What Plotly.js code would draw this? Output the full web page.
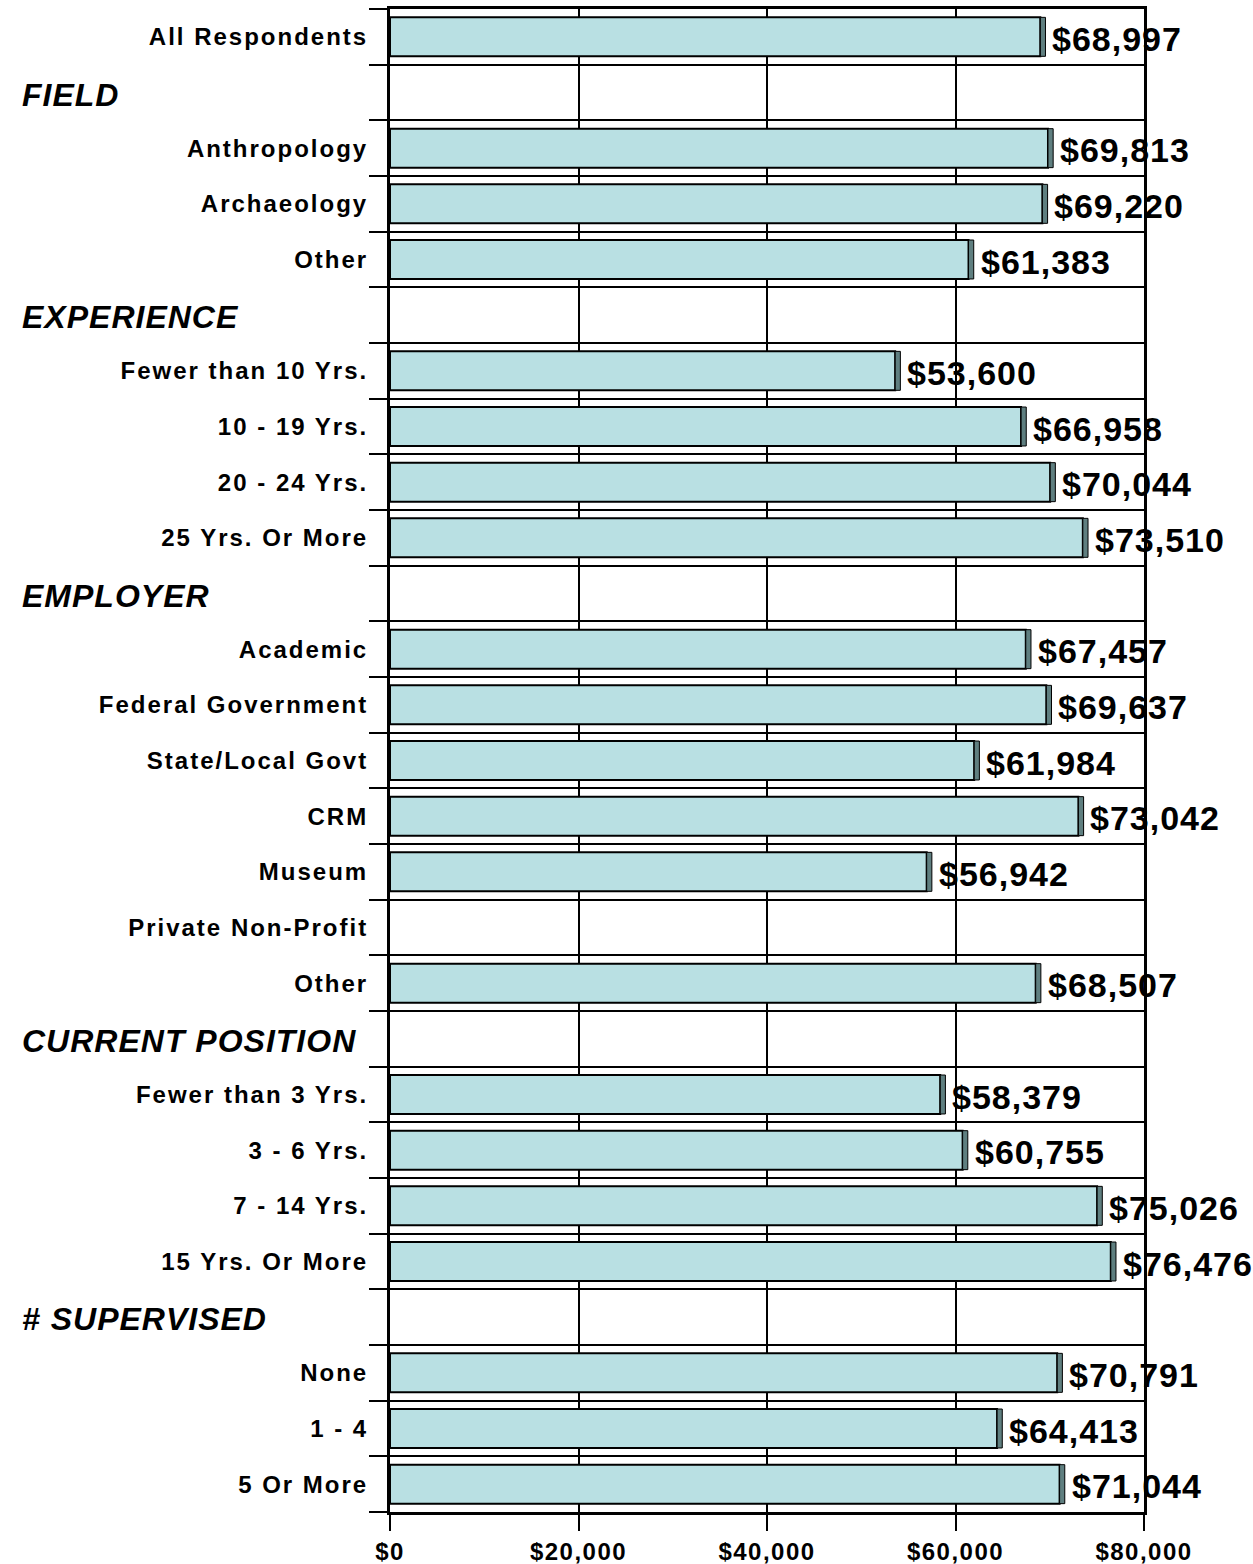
<!DOCTYPE html>
<html>
<head>
<meta charset="utf-8">
<script src="https://cdn.plot.ly/plotly-3.0.1.min.js"></script>
<style>
  html, body { margin: 0; padding: 0; background: #ffffff; }
  #chart { width: 1253px; height: 1564px; }
  .ytick text { letter-spacing: 2px; }
  .xtick text { letter-spacing: 1.5px; }
  .annotation-text { letter-spacing: 1px; }
</style>
</head>
<body>
<div id="chart"></div>
<script>
// ---- data ----
var categories = [
  "All Respondents",
  "FIELD",
  "Anthropology", "Archaeology", "Other",
  "EXPERIENCE",
  "Fewer than 10 Yrs.", "10 - 19 Yrs.", "20 - 24 Yrs.", "25 Yrs. Or More",
  "EMPLOYER",
  "Academic", "Federal Government", "State/Local Govt", "CRM", "Museum", "Private Non-Profit", "Other",
  "CURRENT POSITION",
  "Fewer than 3 Yrs.", "3 - 6 Yrs.", "7 - 14 Yrs.", "15 Yrs. Or More",
  "# SUPERVISED",
  "None", "1 - 4", "5 Or More"
];
var values = [
  68997,
  null,
  69813, 69220, 61383,
  null,
  53600, 66958, 70044, 73510,
  null,
  67457, 69637, 61984, 73042, 56942, null, 68507,
  null,
  58379, 60755, 75026, 76476,
  null,
  70791, 64413, 71044
];
var sectionHeaders = ["FIELD", "EXPERIENCE", "EMPLOYER", "CURRENT POSITION", "# SUPERVISED"];
var xTickValues = [0, 20000, 40000, 60000, 80000];
var xTickLabels = ["$0", "$20,000", "$40,000", "$60,000", "$80,000"];

// ---- build ----
var FONT = "Arial, 'Liberation Sans', sans-serif";
var keys = categories.map(function (c, i) { return "r" + i; });
var isHeader = categories.map(function (c) { return sectionHeaders.indexOf(c) >= 0; });
var tickText = categories.map(function (c, i) { return isHeader[i] ? "" : c; });
var depth = 550; // visual depth of the 3D side face (x units)

function fmt(v) { return "$" + v.toLocaleString("en-US"); }

var mainBars = {
  type: "bar", orientation: "h",
  y: keys, x: values,
  width: 0.7,
  marker: { color: "#b9e0e3", line: { color: "#000000", width: 2 } },
  hoverinfo: "skip", showlegend: false
};
var sideBars = {
  type: "bar", orientation: "h",
  y: keys,
  x: values.map(function (v) { return v == null ? null : depth; }),
  base: values,
  width: 0.7,
  marker: { color: "#5f7f80", line: { color: "#000000", width: 1 } },
  hoverinfo: "skip", showlegend: false
};

var annotations = [];
values.forEach(function (v, i) {
  if (v == null) return;
  annotations.push({
    x: v, y: keys[i], xref: "x", yref: "y",
    text: fmt(v), showarrow: false,
    xanchor: "left", yanchor: "middle", xshift: 10, yshift: -2,
    font: { family: FONT, size: 34, color: "#000000", weight: "bold" }
  });
});
categories.forEach(function (c, i) {
  if (!isHeader[i]) return;
  annotations.push({
    x: 0, y: keys[i], xref: "paper", yref: "y",
    text: c, showarrow: false,
    xanchor: "left", yanchor: "middle", xshift: -370, yshift: -2,
    font: { family: FONT, size: 32, color: "#000000", weight: "bold", style: "italic" }
  });
});

var layout = {
  width: 1253, height: 1564,
  margin: { l: 390, r: 109, t: 9, b: 52 },
  paper_bgcolor: "#ffffff", plot_bgcolor: "#ffffff",
  barmode: "overlay",
  showlegend: false,
  font: { family: FONT, color: "#000000" },
  xaxis: {
    range: [0, 80000],
    tickmode: "array", tickvals: xTickValues, ticktext: xTickLabels,
    ticks: "outside", ticklen: 16, tickwidth: 2, tickcolor: "#000000",
    ticklabelstandoff: 0,
    showgrid: true, gridcolor: "#000000", gridwidth: 2,
    showline: true, linecolor: "#000000", linewidth: 3, mirror: true,
    zeroline: false,
    tickfont: { family: FONT, size: 24, color: "#000000", weight: "bold" }
  },
  yaxis: {
    type: "category",
    categoryorder: "array", categoryarray: keys,
    range: [keys.length - 0.5, -0.5],
    tickmode: "array", tickvals: keys, ticktext: tickText,
    tickson: "boundaries",
    ticks: "outside", ticklen: 18, tickwidth: 2, tickcolor: "#000000",
    ticklabelstandoff: 14,
    showgrid: true, gridcolor: "#000000", gridwidth: 2,
    showline: true, linecolor: "#000000", linewidth: 3, mirror: true,
    zeroline: false,
    tickfont: { family: FONT, size: 24, color: "#000000", weight: "bold" }
  },
  annotations: annotations
};

Plotly.newPlot("chart", [mainBars, sideBars], layout, { displayModeBar: false, staticPlot: true });
</script>
</body>
</html>
